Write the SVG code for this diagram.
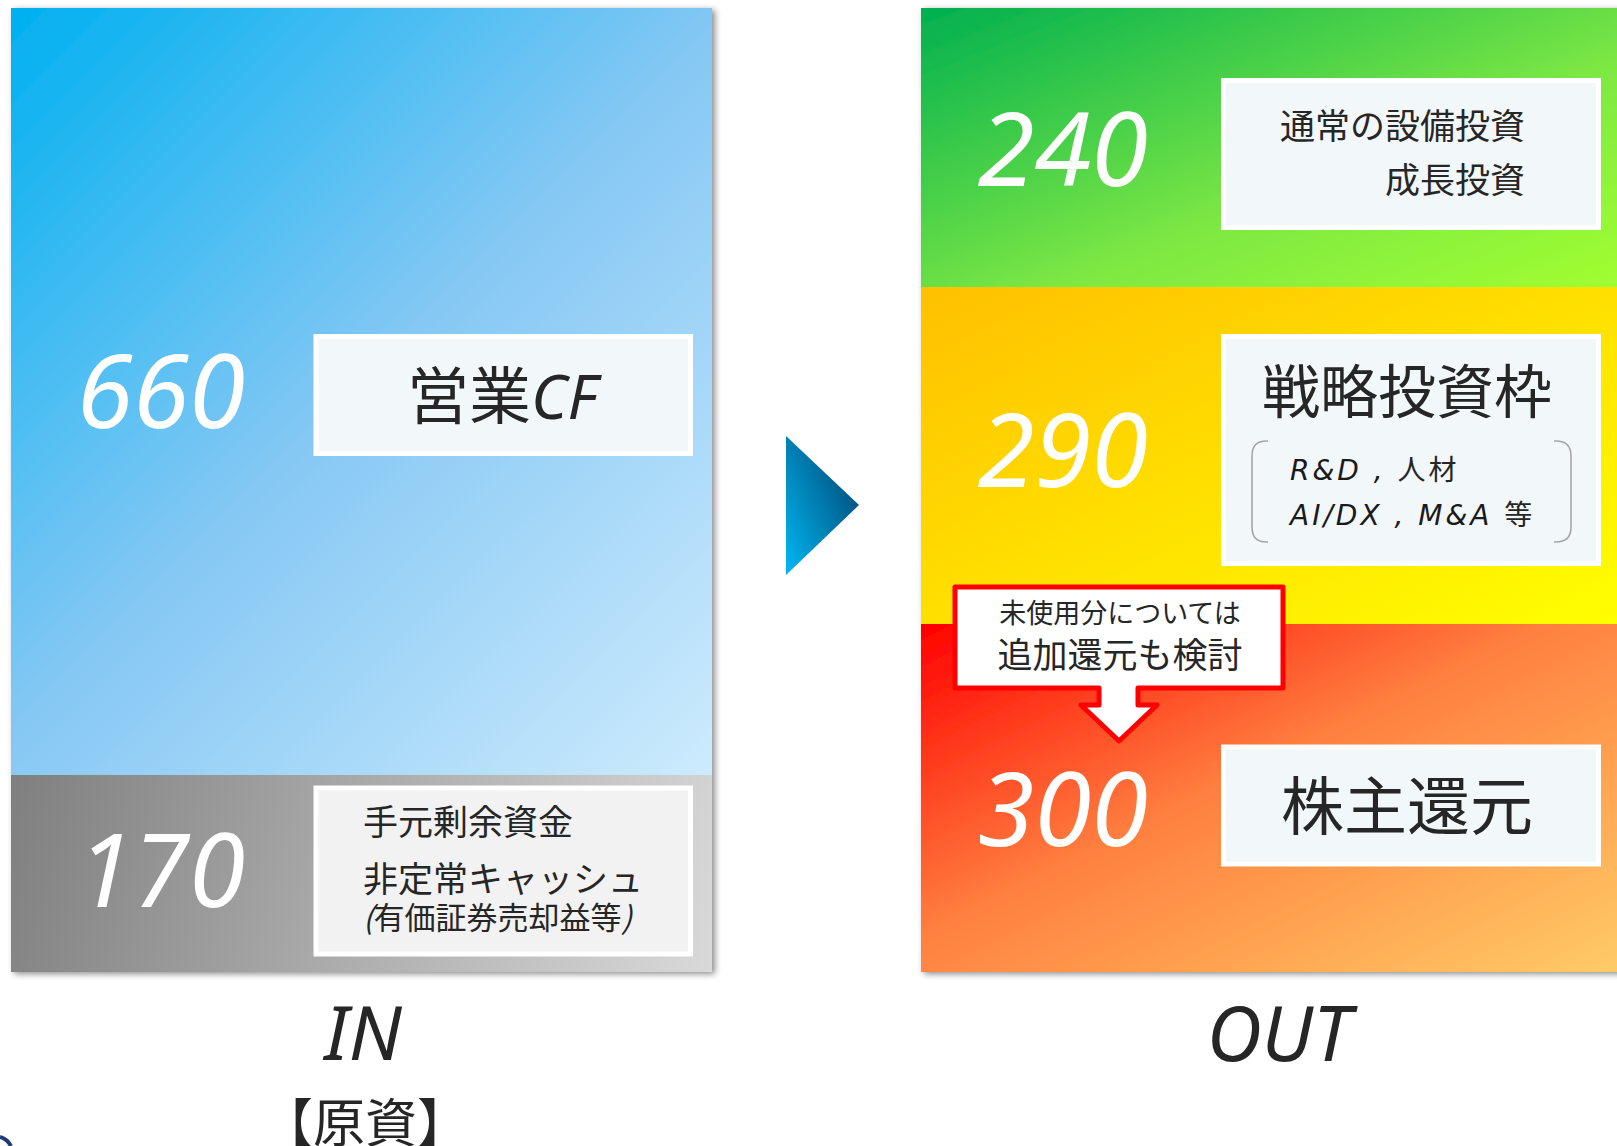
<svg xmlns="http://www.w3.org/2000/svg" width="1617" height="1146" viewBox="0 0 1617 1146">
<defs>
<linearGradient id="gBlue" gradientUnits="userSpaceOnUse" x1="11" y1="8" x2="745" y2="742">
<stop offset="0" stop-color="#00B0F0"/><stop offset="0.5" stop-color="#86C8F4"/><stop offset="1" stop-color="#CDEBFD"/>
</linearGradient>
<linearGradient id="gGray" gradientUnits="userSpaceOnUse" x1="11" y1="775" x2="712" y2="971">
<stop offset="0" stop-color="#7F7F7F"/><stop offset="1" stop-color="#D9D9D9"/>
</linearGradient>
<linearGradient id="gGreen" x1="0" y1="0" x2="1" y2="1">
<stop offset="0" stop-color="#00B050"/><stop offset="0.6" stop-color="#7EE843"/><stop offset="1" stop-color="#A0FF30"/>
</linearGradient>
<linearGradient id="gYellow" x1="0" y1="0" x2="1" y2="1">
<stop offset="0" stop-color="#FFC000"/><stop offset="1" stop-color="#FFFF00"/>
</linearGradient>
<linearGradient id="gRed" x1="0" y1="0" x2="1" y2="1">
<stop offset="0" stop-color="#FF0000"/><stop offset="0.45" stop-color="#FF8040"/><stop offset="1" stop-color="#FFCC66"/>
</linearGradient>
<linearGradient id="gArrow" x1="0" y1="1" x2="0.9" y2="0.25">
<stop offset="0" stop-color="#00B8F2"/><stop offset="1" stop-color="#00507F"/>
</linearGradient>
<filter id="shadow" x="-5%" y="-5%" width="115%" height="115%">
<feDropShadow dx="3" dy="2" stdDeviation="3" flood-color="#000" flood-opacity="0.45"/>
</filter>
<style>
.box{fill:#F2F7FA;stroke:#FFFFFF;stroke-width:5}
.boxg{fill:#F2F2F2;stroke:#FFFFFF;stroke-width:5}
.num{font-family:"Noto Sans","Open Sans",sans-serif;font-style:italic;fill:#FFFFFF;text-anchor:middle}
.jp{font-family:"Noto Sans CJK JP","Noto Sans",sans-serif;fill:#262626}
.lat{font-family:"DejaVu Sans",sans-serif;font-style:italic;fill:#1a1a1a}
.title{font-family:"Noto Sans","Open Sans",sans-serif;font-style:italic;fill:#262626;text-anchor:middle}
.brk{fill:none;stroke:#A6A6A6;stroke-width:1.6}
</style>
</defs>
<rect width="1617" height="1146" fill="#FFFFFF"/>

<g id="in-panel">
<g filter="url(#shadow)">
<rect x="11" y="8" width="701" height="767" fill="url(#gBlue)"/>
<rect x="11" y="775" width="701" height="197" fill="url(#gGray)"/>
</g>
</g>

<g id="node-660">
<text class="num" x="161" y="428" font-size="102">660</text>
<rect class="box" x="316" y="336.5" width="374.5" height="117"/>
<text class="jp" x="502" y="419" font-size="62" text-anchor="middle">営業<tspan font-family="Noto Sans,sans-serif" font-style="italic">CF</tspan></text>
</g>

<g id="node-170">
<text class="num" x="161" y="907" font-size="102">170</text>
<rect class="boxg" x="316" y="788" width="374.5" height="166"/>
<text class="jp" x="363" y="835" font-size="35">手元剰余資金</text>
<text class="jp" x="363" y="892" font-size="35">非定常キャッシュ</text>
<text class="jp" x="363" y="929" font-size="31"><tspan font-style="italic">(</tspan>有価証券売却益等<tspan font-style="italic">)</tspan></text>
</g>

<g id="out-panel">
<g filter="url(#shadow)">
<rect x="921" y="8" width="700" height="279" fill="url(#gGreen)"/>
<rect x="921" y="287" width="700" height="337" fill="url(#gYellow)"/>
<rect x="921" y="624" width="700" height="348" fill="url(#gRed)"/>
</g>
</g>

<g id="node-240">
<text class="num" x="1063" y="186" font-size="103">240</text>
<rect class="box" x="1223.5" y="80.5" width="375" height="147"/>
<text class="jp" x="1525" y="139" font-size="35" text-anchor="end">通常の設備投資</text>
<text class="jp" x="1525" y="193" font-size="35" text-anchor="end">成長投資</text>
</g>

<g id="node-290">
<text class="num" x="1063" y="487" font-size="103">290</text>
<rect class="box" x="1223.5" y="336.5" width="375" height="227"/>
<text class="jp" x="1407" y="413" font-size="58" text-anchor="middle">戦略投資枠</text>
<path class="brk" d="M1268,441 H1266 Q1252,441 1252,456 V527 Q1252,542 1266,542 H1268"/>
<path class="brk" d="M1554,441 H1556 Q1571,441 1571,456 V527 Q1571,542 1556,542 H1554"/>
<text class="lat" x="1290" y="480" font-size="28" letter-spacing="3">R&amp;D , <tspan class="jp" font-style="normal">人材</tspan></text>
<text class="lat" x="1290" y="525" font-size="28" letter-spacing="3">AI/DX , M&amp;A <tspan class="jp" font-style="normal">等</tspan></text>
</g>

<g id="node-300">
<text class="num" x="1063" y="846" font-size="103">300</text>
<rect class="box" x="1223.5" y="747" width="375" height="117"/>
<text class="jp" x="1407" y="829" font-size="63" text-anchor="middle">株主還元</text>
</g>

<g id="callout">
<path d="M955,587 H1283 V688 H1138 V705 H1157 L1119,741 L1081,705 H1099 V688 H955 Z" fill="#FFFFFF" stroke="#FF0000" stroke-width="5" stroke-linejoin="round"/>
<text class="jp" x="1120" y="623" font-size="27" text-anchor="middle">未使用分については</text>
<text class="jp" x="1120" y="668" font-size="35" text-anchor="middle">追加還元も検討</text>
</g>

<g id="connectors">
<polygon points="786,436 859,505 786,575" fill="url(#gArrow)"/>
</g>

<g id="label-in">
<text class="title" x="363" y="1060" font-size="75">IN</text>
<text class="jp" x="365" y="1142" font-size="52" text-anchor="middle">【原資】</text>
</g>

<g id="label-out">
<text class="title" x="1279" y="1061" font-size="76">OUT</text>
</g>

<g id="logo-fragment">
<path d="M0,1137 Q7,1139 11,1146" fill="none" stroke="#1F3A78" stroke-width="4"/>
</g>
</svg>
